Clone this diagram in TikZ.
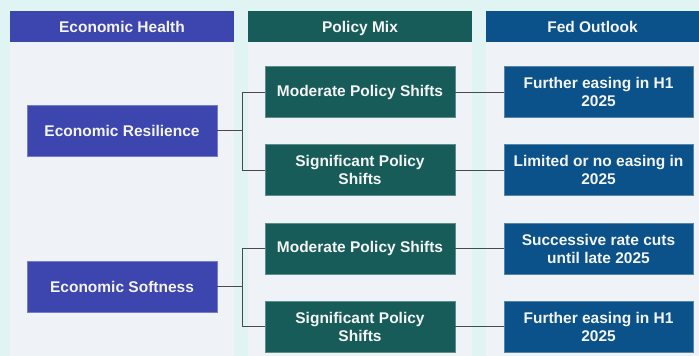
\documentclass[tikz,border=0pt]{standalone}
\usepackage{fontspec}
\setmainfont{Liberation Sans}
\definecolor{pagebg}{HTML}{DFF4F3}
\definecolor{panelbg}{HTML}{EFF3F7}
\definecolor{indigo}{HTML}{3D45AE}
\definecolor{teal}{HTML}{185C5A}
\definecolor{fedblue}{HTML}{0A5289}
\definecolor{linkgray}{HTML}{4A4A4A}
\definecolor{txt}{HTML}{F4F4F4}
\begin{document}
\begin{tikzpicture}[x=1pt,y=-1pt,
  every node/.style={font=\bfseries\fontsize{15.5}{18}\selectfont, text=txt, inner sep=0pt, align=center},
  panel/.style={fill=panelbg, draw=none},
  hdr/.style={minimum height=31pt, text height=11pt, text depth=0pt},
  card/.style={minimum width=190pt, minimum height=51pt, draw=#1!70!white, line width=0.6pt, fill=#1},
  link/.style={draw=linkgray, line width=0.9pt}]
  % page background
  \fill[pagebg] (0,0) rectangle (699,356);
  \useasboundingbox (0,0) rectangle (699,356);
  % column panels
  \fill[panel] (10,42) rectangle (234,356);
  \fill[panel] (248,42) rectangle (472,356);
  \fill[panel] (486,42) rectangle (699,356);
  % column headers
  \node[hdr, fill=indigo, minimum width=224pt] (h1) at (122,26.5) {Economic Health};
  \node[hdr, fill=teal, minimum width=224pt] (h2) at (360,26.5) {Policy Mix};
  \node[hdr, fill=fedblue, minimum width=213pt] (h3) at (592.5,26.5) {Fed Outlook};
  % economic health
  \node[card=indigo] (res) at (122,130.5) {Economic Resilience};
  \node[card=indigo] (soft) at (122,286.5) {Economic Softness};
  % policy mix
  \node[card=teal] (mod1) at (360,92) {Moderate Policy Shifts};
  \node[card=teal] (sig1) at (360,170) {Significant Policy\\Shifts};
  \node[card=teal] (mod2) at (360,248.5) {Moderate Policy Shifts};
  \node[card=teal] (sig2) at (360,326.5) {Significant Policy\\Shifts};
  % fed outlook
  \node[card=fedblue, minimum width=189pt] (fo1) at (598.5,92) {Further easing in H1\\2025};
  \node[card=fedblue, minimum width=189pt] (fo2) at (598.5,170) {Limited or no easing in\\2025};
  \node[card=fedblue, minimum width=189pt] (fo3) at (598.5,248.5) {Successive rate cuts\\until late 2025};
  \node[card=fedblue, minimum width=189pt] (fo4) at (598.5,326.5) {Further easing in H1\\2025};
  % tree connectors
  \draw[link] (res.east) -- ++(25,0) coordinate (j1);
  \draw[link] (mod1.west) -| (j1) |- (sig1.west);
  \draw[link] (soft.east) -- ++(25,0) coordinate (j2);
  \draw[link] (mod2.west) -| (j2) |- (sig2.west);
  \draw[link] (mod1.east) -- (fo1.west);
  \draw[link] (sig1.east) -- (fo2.west);
  \draw[link] (mod2.east) -- (fo3.west);
  \draw[link] (sig2.east) -- (fo4.west);
\end{tikzpicture}
\end{document}
